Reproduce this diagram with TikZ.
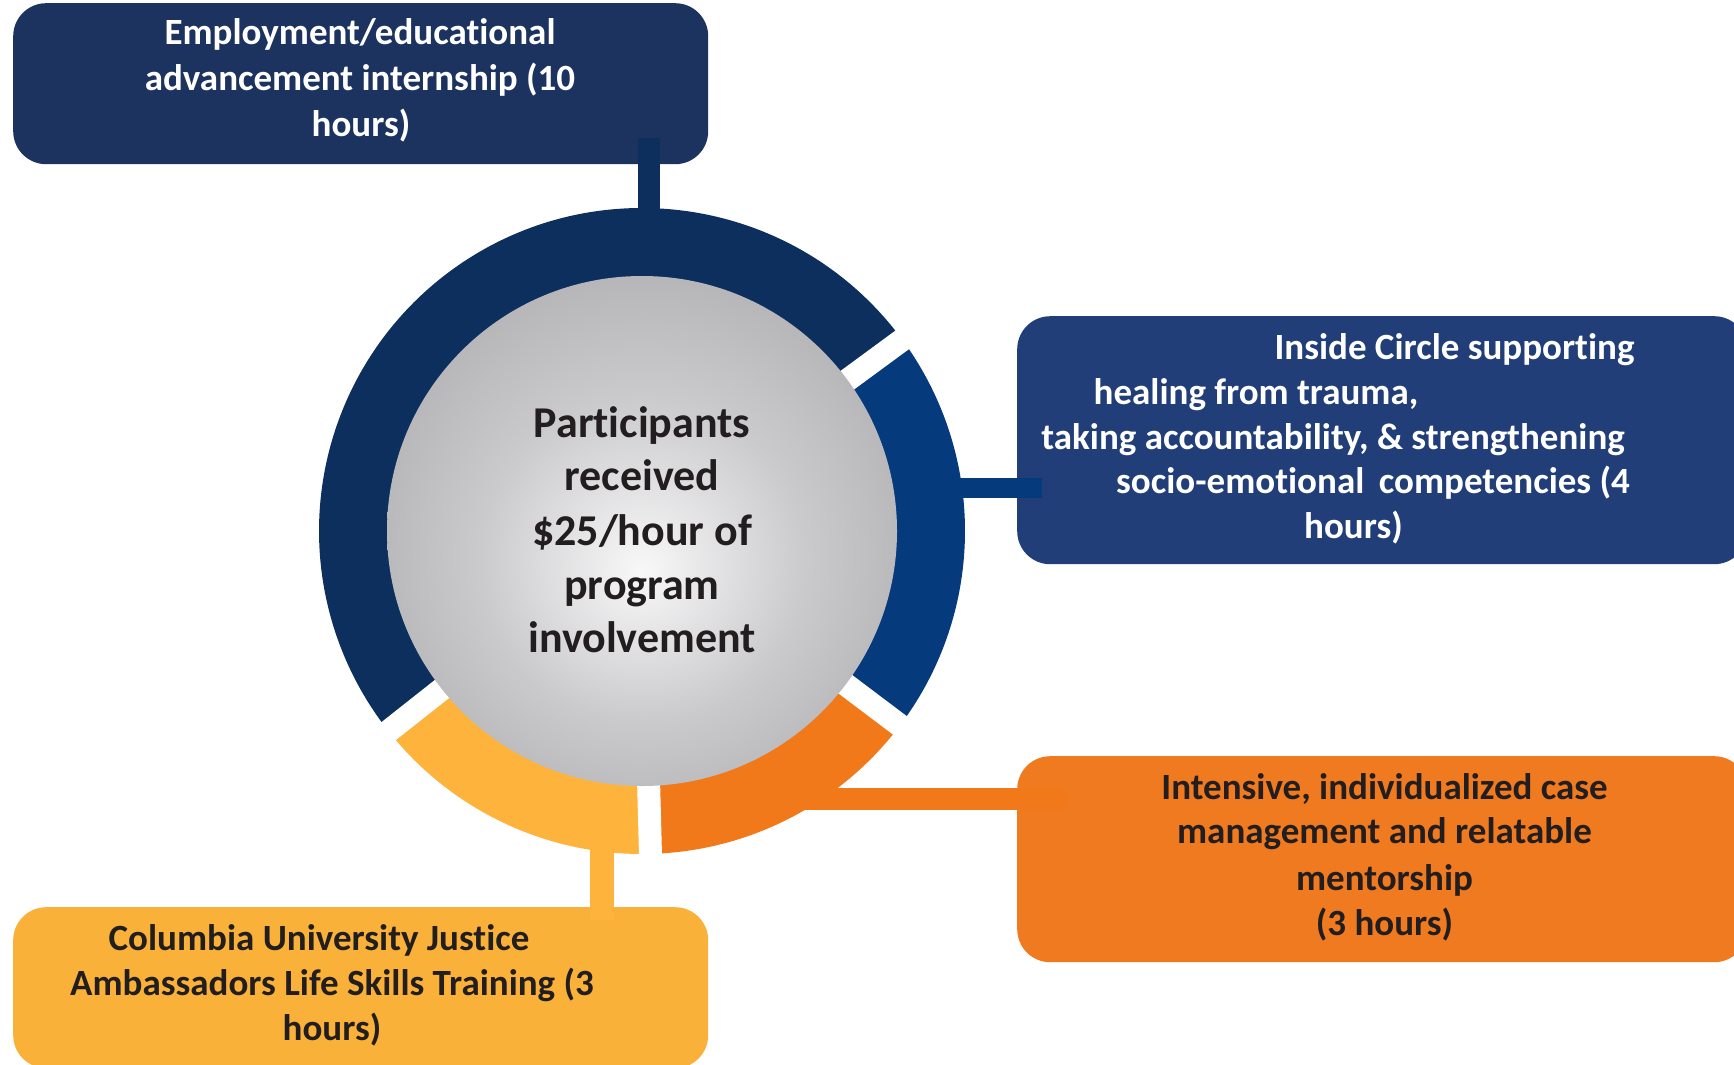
\documentclass[tikz,border=0pt]{standalone}
\usepackage{fontspec}
\setmainfont[Ligatures=NoCommon]{Carlito}
\usetikzlibrary{calc}
\definecolor{navyring}{RGB}{13,47,94}
\definecolor{bluering}{RGB}{5,58,125}
\definecolor{orangering}{RGB}{241,121,26}
\definecolor{yellowring}{RGB}{253,179,60}
\definecolor{navybox}{RGB}{28,50,95}
\definecolor{bluebox}{RGB}{33,62,121}
\definecolor{orangebox}{RGB}{240,122,32}
\definecolor{yellowbox}{RGB}{249,177,58}
\definecolor{darktext}{RGB}{34,30,31}
\definecolor{sphA}{RGB}{248,248,249}
\definecolor{sphB}{RGB}{202,202,204}
\definecolor{sphC}{RGB}{166,166,168}
\definecolor{sphD}{RGB}{146,146,149}
\pgfdeclareradialshading{graysphere}{\pgfpoint{0bp}{-4bp}}{color(0bp)=(sphA); color(16bp)=(sphB); color(36bp)=(sphC); color(50bp)=(sphD)}
\begin{document}
\begin{tikzpicture}[x=1pt,y=1pt,
  boxst/.style={rounded corners=33pt, inner sep=0pt, anchor=north west, draw=none},
  barst/.style={line width=#1},
  lt/.style={anchor=base, inner sep=0pt, font=\bfseries\fontsize{37}{45}\selectfont},
  ct/.style={anchor=base, inner sep=0pt, text=darktext, font=\bfseries\fontsize{44}{54}\selectfont},
  gapst/.style={white, line width=23pt}]
\useasboundingbox (0,0) rectangle (1734,-1065);

% boxes
\node[boxst, fill=navybox, minimum width=695pt, minimum height=161pt] (empbox) at (13,-3) {};
\node[boxst, fill=bluebox, minimum width=730pt, minimum height=248pt] (icbox) at (1017,-316) {};
\node[boxst, fill=orangebox, minimum width=730pt, minimum height=206pt] (cmbox) at (1017,-756) {};
\node[boxst, fill=yellowbox, minimum width=695pt, minimum height=161pt] (cubox) at (13,-907) {};

% hub coordinates
\coordinate (hub) at (642,-531);
\coordinate (empIn) at (649,-138);
\coordinate (empRing) at (649,-240);
\coordinate (icIn) at (1042,-488);
\coordinate (icRing) at (930,-488);
\coordinate (cmIn) at (1067,-799);
\coordinate (cmRing) at (780,-799);
\coordinate (cuIn) at (602,-920);
\coordinate (cuRing) at (602,-830);

% connector bars
\draw[barst=22pt, navyring] (empIn) -- (empRing);
\draw[barst=20pt, bluering] (icRing) -- (icIn);
\draw[barst=22pt, orangering] (cmRing) -- (cmIn);
\draw[barst=24pt, yellowring] (cuRing) -- (cuIn);

% ring segments
\fill[navyring] ($(hub)+(36.3:323)$) arc[start angle=36.3, end angle=218.3, radius=323]
  -- ($(hub)+(218.3:235)$) arc[start angle=218.3, end angle=36.3, radius=235] -- cycle;
\fill[bluering] ($(hub)+(-37:323)$) arc[start angle=-37, end angle=36.3, radius=323]
  -- ($(hub)+(36.3:235)$) arc[start angle=36.3, end angle=-37, radius=235] -- cycle;
\fill[orangering] ($(hub)+(-88.5:323)$) arc[start angle=-88.5, end angle=-37, radius=323]
  -- ($(hub)+(-37:235)$) arc[start angle=-37, end angle=-88.5, radius=235] -- cycle;
\fill[yellowring] ($(hub)+(218.3:323)$) arc[start angle=218.3, end angle=271.5, radius=323]
  -- ($(hub)+(271.5:235)$) arc[start angle=271.5, end angle=218.3, radius=235] -- cycle;

% gaps
\draw[gapst] (hub) -- ++(36.3:345);
\draw[gapst] (hub) -- ++(-37:345);
\draw[gapst] (hub) -- ++(-88.5:345);
\draw[gapst] (hub) -- ++(218.3:345);

% central sphere
\shade[shading=graysphere] (hub) circle[radius=255];
\node[ct] (c1) at (642,-437.5) {Participants};
\node[ct] (c2) at (642,-490.6) {received};
\node[ct] (c3) at (642,-545) {\$25/hour of};
\node[ct] (c4) at (642,-599) {program};
\node[ct] (c5) at (642,-652) {involvement};

% texts: employment
\node[lt, text=white] (e1) at (360,-45) {Employment/educational};
\node[lt, text=white] (e2) at (360,-90.5) {advancement internship (10};
\node[lt, text=white] (e3) at (361,-136) {hours)};

% texts: inside circle
\node[lt, text=white] (i1) at (1454.5,-359) {Inside Circle supporting};
\node[lt, text=white] (i2) at (1256,-404) {healing from trauma,};
\node[lt, text=white] (i3) at (1333,-449) {taking accountability, \& strengthening};
\node[lt, text=white] (i4) at (1373,-493) {socio-emotional\, competencies (4};
\node[lt, text=white] (i5) at (1353.5,-538) {hours)};

% texts: case management
\node[lt, text=darktext] (m1) at (1384.5,-799) {Intensive, individualized case};
\node[lt, text=darktext] (m2) at (1384.5,-843.6) {management and relatable};
\node[lt, text=darktext] (m3) at (1384.5,-890) {mentorship};
\node[lt, text=darktext] (m4) at (1384.5,-935.4) {(3 hours)};

% texts: Columbia
\node[lt, text=darktext] (u1) at (319,-950) {Columbia University Justice};
\node[lt, text=darktext] (u2) at (332,-995) {Ambassadors Life Skills Training (3};
\node[lt, text=darktext] (u3) at (332,-1040.5) {hours)};
\end{tikzpicture}
\end{document}
